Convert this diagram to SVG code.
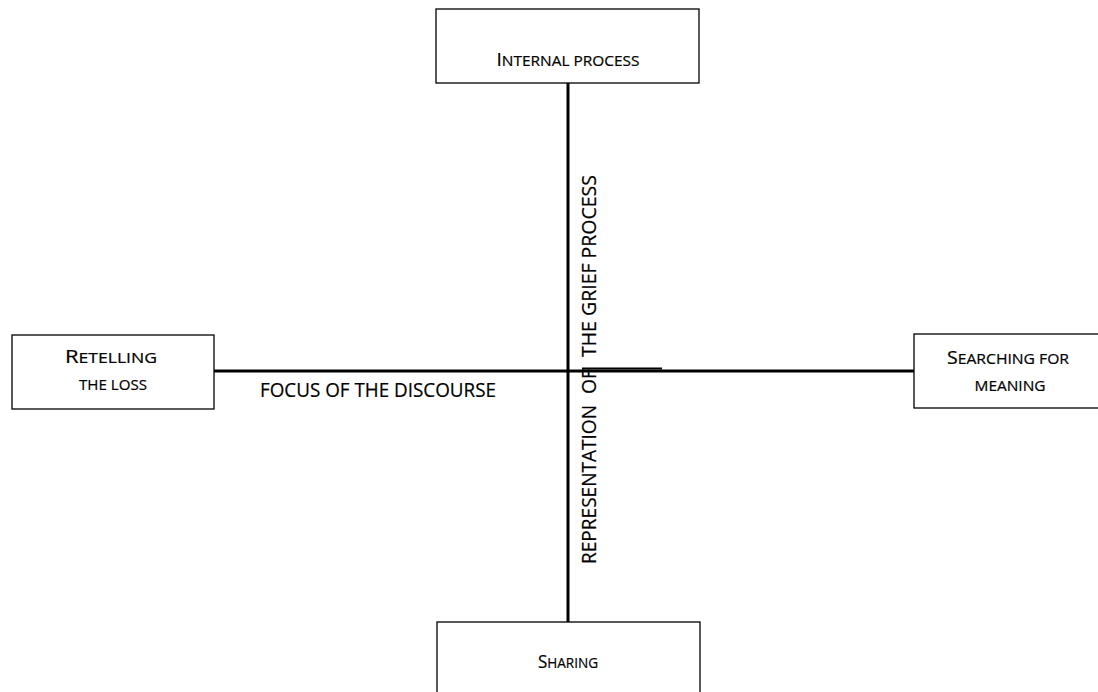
<svg xmlns="http://www.w3.org/2000/svg" width="1098" height="692" viewBox="0 0 1098 692">
<style>
.box{fill:#fff;stroke:#000;stroke-width:1.3}
.t{font-family:"Open Sans","Liberation Sans",sans-serif;fill:#000;text-anchor:middle;stroke:#000;stroke-width:0.2}
.big{font-size:17.5px}
.sm{font-size:14px}
.lbl{font-family:"Open Sans","Liberation Sans",sans-serif;fill:#000;font-size:20px;stroke:#000;stroke-width:0.2}
.ax{stroke:#000;stroke-width:3;fill:none}
</style>
<rect width="1098" height="692" fill="#fff"/>
<g id="connectors">
<line class="ax" x1="568" y1="83" x2="568" y2="622"/>
<line class="ax" x1="214" y1="371" x2="914" y2="371"/>
<line x1="582" y1="368.5" x2="662" y2="368.5" stroke="#000" stroke-width="2"/>
</g>
<g id="axis-labels">
<text class="lbl" x="260" y="397" textLength="236" lengthAdjust="spacingAndGlyphs">FOCUS OF THE DISCOURSE</text>
<text class="lbl" transform="translate(596,564) rotate(-90)" textLength="159" lengthAdjust="spacingAndGlyphs">REPRESENTATION</text>
<text class="lbl" transform="translate(596,394) rotate(-90)" textLength="25" lengthAdjust="spacingAndGlyphs">OF</text>
<text class="lbl" transform="translate(596,357) rotate(-90)" textLength="182" lengthAdjust="spacingAndGlyphs">THE GRIEF PROCESS</text>
</g>
<g id="node-internal">
<rect class="box" x="436" y="9" width="263" height="74"/>
<text class="t" x="568" y="66" textLength="143" lengthAdjust="spacingAndGlyphs"><tspan class="big">I</tspan><tspan class="sm">NTERNAL PROCESS</tspan></text>
</g>
<g id="node-retelling">
<rect class="box" x="12" y="335" width="202" height="74"/>
<text class="t" x="111" y="363" textLength="92" lengthAdjust="spacingAndGlyphs"><tspan class="big">R</tspan><tspan class="sm">ETELLING</tspan></text>
<text class="t sm" x="113" y="390" textLength="68" lengthAdjust="spacingAndGlyphs">THE LOSS</text>
</g>
<g id="node-searching">
<rect class="box" x="914" y="334" width="190" height="74"/>
<text class="t" x="1008" y="364" textLength="122" lengthAdjust="spacingAndGlyphs"><tspan class="big">S</tspan><tspan class="sm">EARCHING FOR</tspan></text>
<text class="t sm" x="1010" y="391" textLength="71" lengthAdjust="spacingAndGlyphs">MEANING</text>
</g>
<g id="node-sharing">
<rect class="box" x="437" y="622" width="263" height="80"/>
<text class="t" x="568" y="668" textLength="60" lengthAdjust="spacingAndGlyphs"><tspan class="big">S</tspan><tspan class="sm">HARING</tspan></text>
</g>
</svg>
